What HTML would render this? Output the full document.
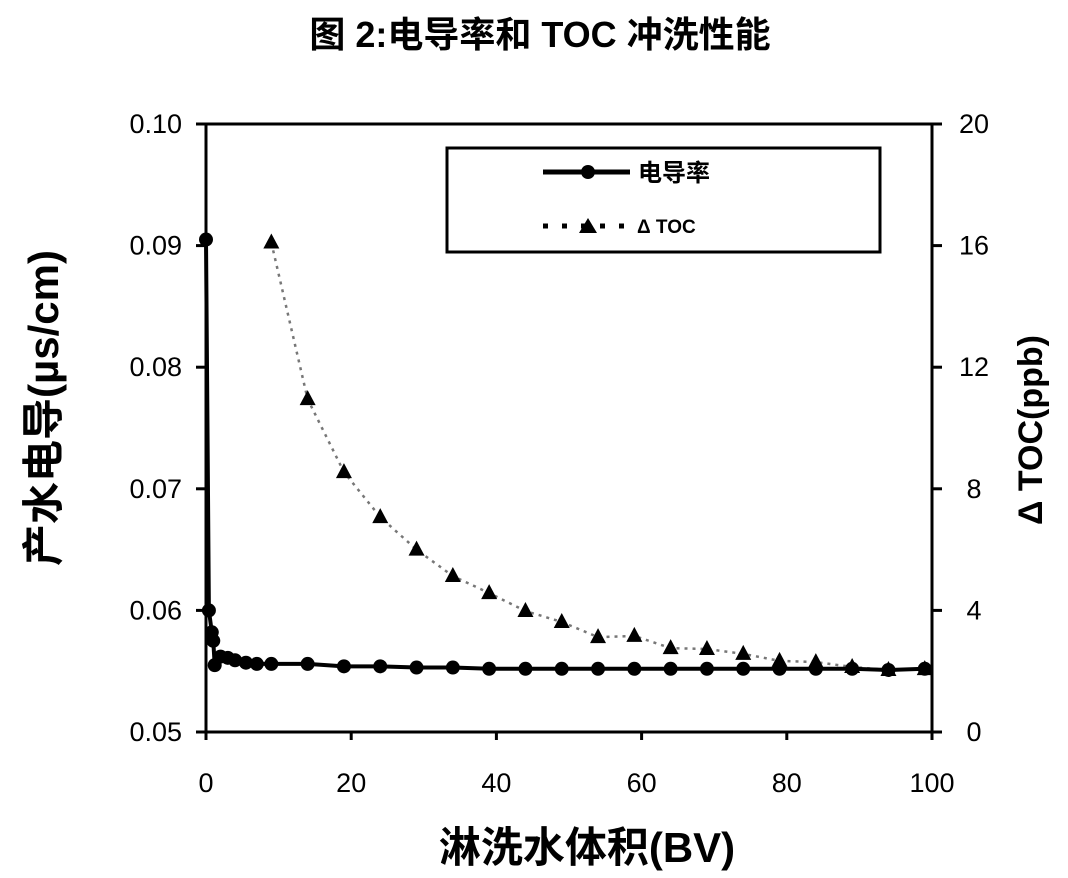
<!DOCTYPE html>
<html><head><meta charset="utf-8"><style>
body{margin:0;background:#fff;}
svg{display:block;font-family:"Liberation Sans","Noto Sans CJK SC",sans-serif;}
</style></head><body>
<svg id="c" width="1068" height="878">
<text x="540" y="47" text-anchor="middle" font-size="36" font-weight="bold">图 2:电导率和 TOC 冲洗性能</text>
<g id="axes"></g>
<g id="marks"></g>
<g>
<rect x="447" y="148" width="433" height="104" fill="#fff" stroke="#000" stroke-width="3"/>
<line x1="543" y1="172" x2="630" y2="172" stroke="#000" stroke-width="5"/>
<circle cx="588" cy="172" r="7" fill="#000"/>
<text x="638" y="181" font-size="24" font-weight="bold">电导率</text>
<line x1="543" y1="226" x2="630" y2="226" stroke="#000" stroke-width="5" stroke-dasharray="5,14"/>
<polygon points="588,218 597,233 579,233" fill="#000"/>
<text x="637" y="233" font-size="19" font-weight="bold">Δ TOC</text>
</g>
<text transform="translate(58,408) rotate(-90)" text-anchor="middle" font-size="42" font-weight="bold">产水电导(µs/cm)</text>
<text transform="translate(1042,430) rotate(-90)" text-anchor="middle" font-size="34" font-weight="bold">Δ TOC(ppb)</text>
<text x="587" y="862" text-anchor="middle" font-size="42" font-weight="bold">淋洗水体积(BV)</text>
</svg>
<script>
const xTicks=[0,20,40,60,80,100];
const yTicks=[0.05,0.06,0.07,0.08,0.09,0.10];
const y2Ticks=[0,4,8,12,16,20];
const condX=[0,0.4,0.8,1,1.2,2,3,4,5.5,7,9,14,19,24,29,34,39,44,49,54,59,64,69,74,79,84,89,94,99];
const condY=[0.0905,0.060,0.0582,0.0575,0.0555,0.0562,0.0561,0.0559,0.0557,0.0556,0.0556,0.0556,0.0554,0.0554,0.0553,0.0553,0.0552,0.0552,0.0552,0.0552,0.0552,0.0552,0.0552,0.0552,0.0552,0.0552,0.0552,0.0551,0.0552];
const tocX=[9,14,19,24,29,34,39,44,49,54,59,64,69,74,79,84,89,94,99];
const tocY=[16.1,10.95,8.55,7.07,6.0,5.13,4.57,3.98,3.62,3.12,3.16,2.76,2.73,2.57,2.34,2.3,2.14,2.04,2.07];
const X0=206,X1=932,Y0=732,Y1=124;
const sx=v=>X0+(v-0)/100*(X1-X0);
const sy=v=>Y0-(v-0.05)/0.05*(Y0-Y1);
const sy2=v=>Y0-v/20*(Y0-Y1);
const NS="http://www.w3.org/2000/svg";
function mk(t,a,p){const e=document.createElementNS(NS,t);for(const k in a)e.setAttribute(k,a[k]);p.appendChild(e);return e;}
const ax=document.getElementById('axes'),mg=document.getElementById('marks');
let e;
e=mk('rect',{x:X0,y:Y1,width:X1-X0,height:Y0-Y1,fill:'none',stroke:'#000','stroke-width':3},ax);


xTicks.forEach(v=>{
 mk('line',{x1:sx(v),y1:Y0,x2:sx(v),y2:Y0+8,stroke:'#000','stroke-width':3},ax);
 e=mk('text',{x:sx(v),y:Y0+60,'text-anchor':'middle','font-size':27},ax);e.textContent=v;
 
 
});
yTicks.forEach(v=>{
 mk('line',{x1:X0-10,y1:sy(v),x2:X0,y2:sy(v),stroke:'#000','stroke-width':3},ax);
 e=mk('text',{x:X0-24,y:sy(v)+9,'text-anchor':'end','font-size':27},ax);e.textContent=v.toFixed(2);
 
 
});
y2Ticks.forEach(v=>{
 mk('line',{x1:X1,y1:sy2(v),x2:X1+10,y2:sy2(v),stroke:'#000','stroke-width':3},ax);
 e=mk('text',{x:X1+42,y:sy2(v)+9,'text-anchor':'middle','font-size':27},ax);e.textContent=v;
 
 
});
e=mk('polyline',{points:tocX.map((v,i)=>sx(v)+','+sy2(tocY[i])).join(' '),fill:'none',stroke:'#777','stroke-width':2.5,'stroke-dasharray':'3,5'},mg);


tocX.forEach((v,i)=>{const x=sx(v),y=sy2(tocY[i]);
 e=mk('polygon',{points:`${x},${y-9} ${x+8},${y+6} ${x-8},${y+6}`,fill:'#000'},mg);
 
 
});
e=mk('polyline',{points:condX.map((v,i)=>sx(v)+','+sy(condY[i])).join(' '),fill:'none',stroke:'#000','stroke-width':4},mg);


condX.forEach((v,i)=>{
 e=mk('circle',{cx:sx(v),cy:sy(condY[i]),r:7,fill:'#000'},mg);
 
 
});
</script>
</body></html>
